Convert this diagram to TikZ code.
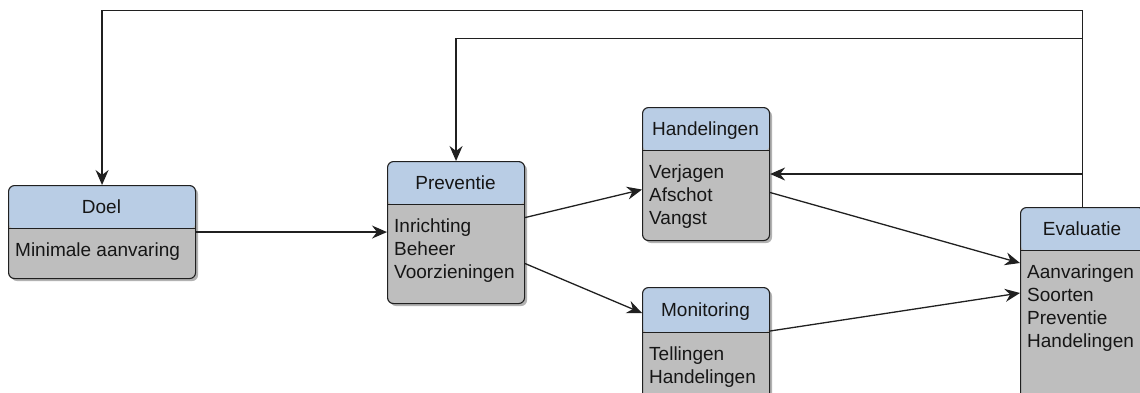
\documentclass[tikz,border=0pt]{standalone}
\usepackage{fontspec}
\setmainfont{Liberation Sans}
\usetikzlibrary{arrows.meta,shadows}

\definecolor{hdrblue}{HTML}{B9CDE5}
\definecolor{bodygray}{HTML}{BEBEBE}
\definecolor{edge}{HTML}{202020}
\definecolor{ink}{HTML}{161616}

\tikzset{
  boxfont/.style={font=\fontsize{19}{23}\selectfont, text=ink},
  classbox/.style={draw=edge, line width=1.1pt, rounded corners=6pt,
    fill=bodygray, inner sep=0pt, anchor=north west,
    drop shadow={shadow xshift=2.5pt, shadow yshift=-2.5pt, fill=black, opacity=0.3}},
  hdr/.style={path picture={
    \fill[hdrblue] (path picture bounding box.north west)
      rectangle ([yshift=-#1pt]path picture bounding box.north east);
    \draw[edge, line width=1.1pt] ([yshift=-#1pt]path picture bounding box.north west)
      -- ([yshift=-#1pt]path picture bounding box.north east);}},
  boxtitle/.style={boxfont, anchor=base, inner sep=0pt},
  boxbody/.style={boxfont, anchor=north west, align=left, inner sep=0pt},
  arr/.style={draw=edge, line width=1.3pt, -{Stealth[length=15pt,width=13pt,inset=5pt]}}
}

% #1 name, #2 left, #3 top, #4 width, #5 height, #6 header height, #7 title, #8 body
\newcommand{\mkbox}[8]{%
  \node[classbox, hdr=#6, minimum width=#4pt, minimum height=#5pt] (#1) at (#2,#3) {};
  \node[boxtitle] (#1-t) at ({#2+#4/2},{#3+#6/2+6.5}) {#7};
  \node[boxbody] (#1-b) at ({#2+7},{#3+#6+14.5}) {#8};
}

\begin{document}
\begin{tikzpicture}[x=1pt,y=-1pt]
  \useasboundingbox (0,0) rectangle (1140,392);
  \clip (0,0) rectangle (1140,392);

  \mkbox{doel}{8}{185}{187}{93}{43}{Doel}{Minimale aanvaring}
  \mkbox{prev}{387}{161}{137}{142}{43}{Preventie}{Inrichting\\Beheer\\Voorzieningen}
  \mkbox{hand}{642}{107}{127}{133}{43}{Handelingen}{Verjagen\\Afschot\\Vangst}
  \mkbox{mon}{642}{287}{127}{133}{45}{Monitoring}{Tellingen\\Handelingen}
  \mkbox{eval}{1020}{207}{124}{200}{43}{Evaluatie}{Aanvaringen\\Soorten\\Preventie\\Handelingen}

  % forward flow
  \draw[arr] (doel.east) -- (doel.east -| prev.west);
  \draw[arr] ([yshift=15pt]prev.east) -- ([yshift=-15.5pt]hand.west);
  \draw[arr] ([yshift=-31pt]prev.east) -- ([yshift=-26pt]mon.north west);
  \draw[arr] ([yshift=-85.5pt]hand.north east) -- ([yshift=-56pt]eval.north west);
  \draw[arr] ([yshift=-44pt]mon.north east) -- ([yshift=-86pt]eval.north west);

  % feedback from the evaluation
  \coordinate (fbA) at (eval.north |- 0,10.5);
  \coordinate (fbB) at (eval.north |- 0,38.5);
  \coordinate (fbC) at (eval.north |- 0,174);
  \draw[arr] (eval.north) -- (fbA) -| (doel.north);
  \draw[arr] (fbB) -| (prev.north);
  \draw[arr] (fbC) -- (fbC -| hand.east);
\end{tikzpicture}
\end{document}
